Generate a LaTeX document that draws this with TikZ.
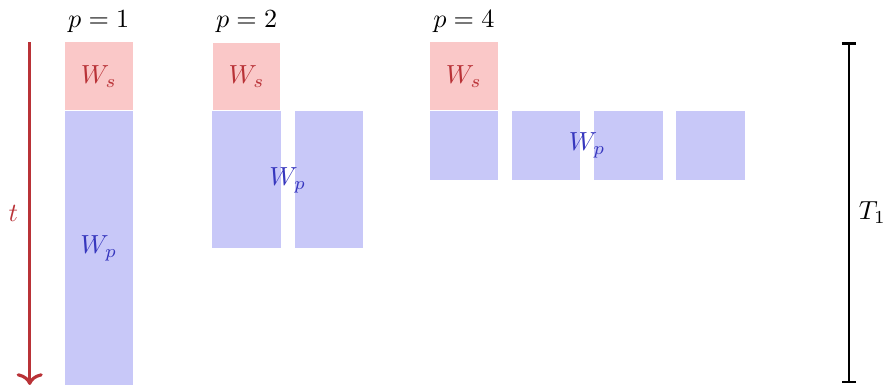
\documentclass[tikz,border=0pt]{standalone}
\usepackage{amsmath, amssymb}
\usepackage{tikz}
\usepackage{xcolor}
\definecolor{SerialRed}{RGB}{185, 50, 55}
\definecolor{SerialFill}{RGB}{250, 200, 200}
\definecolor{ParBlue}{RGB}{55, 55, 190}
\definecolor{ParFill}{RGB}{200, 200, 248}
\usetikzlibrary{arrows.meta, positioning, calc}

\begin{document}
\begin{tikzpicture}[
    x=0.92cm, y=0.92cm,
    serial/.style={rectangle, minimum width=0.92cm, minimum height=0.92cm, inner sep=0pt, fill=SerialFill, text=SerialRed, anchor=south west},
    parallel/.style={rectangle, minimum width=0.92cm, inner sep=0pt, fill=ParFill, text=ParBlue, anchor=north west},
    timearrow/.style={-{Computer Modern Rightarrow[length=4.5pt, width=10pt]}, very thick, SerialRed},
    span/.style={{Bar[width=5.5pt]}-{Bar[width=5.5pt]}, thick, black}
]
\useasboundingbox (-0.934, -4.0) rectangle (12.0, 1.62);

% p = 1
\node[serial] (ws1) at (0, 0) {$W_s$};
\node[parallel, minimum height=3.68cm] (wp1) at (0, 0) {$W_p$};
\node[above=0pt of ws1] (p1) {$p=1$};

% p = 2
\node[parallel, minimum height=1.84cm] (wp2a) at (2.16, 0) {};
\node[parallel, minimum height=1.84cm] (wp2b) at (3.36, 0) {};
\node[serial, draw=white, line width=0.3pt] (ws2) at (2.16, 0) {$W_s$};
\node[text=ParBlue] (lab2) at ($(wp2a)!0.5!(wp2b)$) {$W_p$};
\node[above=0pt of ws2] (p2) {$p=2$};

% p = 4
\node[serial] (ws4) at (5.33, 0) {$W_s$};
\foreach \col in {0,1,2,3} {
    \node[parallel, minimum height=0.92cm] (wp4\col) at (5.33+\col*1.2, 0) {};
}
\node[text=ParBlue] (lab4) at ($(wp40)!0.5!(wp43)$) {$W_p$};
\node[above=0pt of ws4] (p4) {$p=4$};

% time axis and total span
\coordinate (tstart) at (-0.5, 1);
\coordinate (tend) at (-0.5, -4);
\draw[timearrow] (tstart) -- node[left=0.5pt, text=SerialRed] (tlab) {$t$} (tend);
\coordinate (spantop) at (11.46, 1);
\coordinate (spanbot) at (11.46, -3.97);
\draw[span] (spantop) -- node[right] (tone) {$T_1$} (spanbot);

\end{tikzpicture}
\end{document}
